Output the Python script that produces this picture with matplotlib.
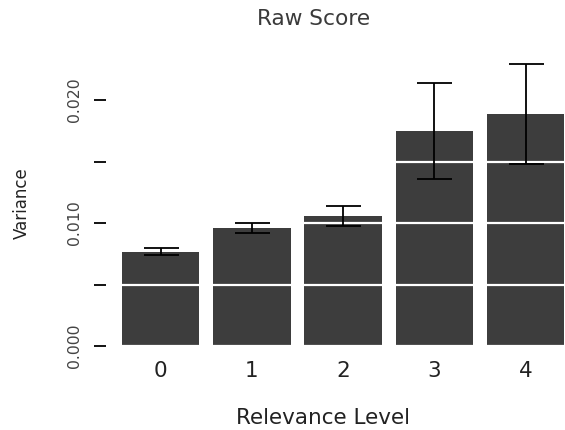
import numpy as np
import matplotlib
matplotlib.use('Agg')
import matplotlib.pyplot as plt

# relevance levels and their variance
levels = ['0', '1', '2', '3', '4']
variance = [0.00767, 0.0096, 0.01057, 0.01748, 0.01886]
variance_err = [0.0003, 0.0004, 0.00078, 0.0039, 0.0041]

fig = plt.figure(figsize=(5.65, 4.3), dpi=100)
ax = fig.add_axes([106 / 565, 84 / 430, 459 / 565, 291 / 430])

x = np.arange(len(levels))
ax.bar(x, variance, width=0.85, color='#3d3d3d', zorder=1)
ax.errorbar(x, variance, yerr=variance_err, fmt='none', ecolor='black',
            elinewidth=1.3, capsize=12.6, capthick=1.3, zorder=3)

ax.set_xlim(-0.6, 4.433)
ax.set_ylim(0, 0.02366)

# white grid drawn over the bars
ax.set_yticks([0.0, 0.005, 0.010, 0.015, 0.020])
ax.set_yticklabels(['0.000', '', '0.010', '', '0.020'], rotation=90,
                   va='center', fontsize=11.3, color='#444444')
ax.yaxis.grid(True, color='white', linewidth=1.6, zorder=2)
ax.set_axisbelow(False)
ax.tick_params(axis='y', length=8.6, width=1.3, pad=9, color='black')

ax.set_xticks(x)
ax.set_xticklabels(levels, fontsize=15.5, color='#222222')
ax.tick_params(axis='x', length=0, pad=11)

for s in ax.spines.values():
    s.set_visible(False)

ax.set_ylabel('Variance', fontsize=12, color='#222222')
ax.yaxis.set_label_coords(-0.163, 0.49)
ax.set_xlabel('Relevance Level', fontsize=15.5, color='#222222')
ax.xaxis.set_label_coords(0.472, -0.213)

fig.text(313.7 / 565, 1 - 19 / 430, 'Raw Score', fontsize=15.6,
         color='#3a3a3a', ha='center', va='center')

fig.savefig('out.png', dpi=100)
